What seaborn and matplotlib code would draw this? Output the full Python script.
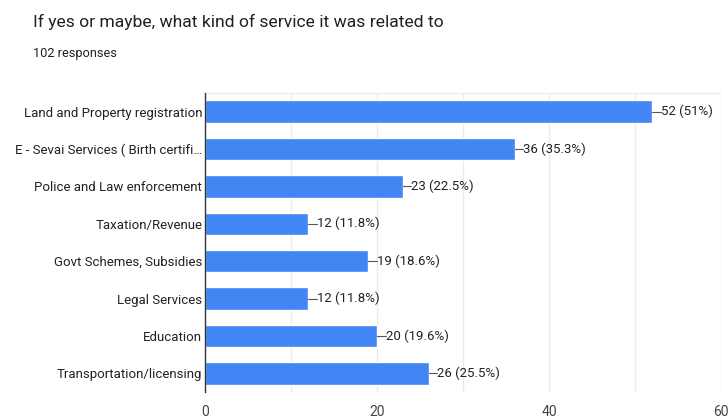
import matplotlib
matplotlib.use("Agg")
import matplotlib.pyplot as plt
import seaborn as sns
import pandas as pd

categories = ["Land and Property registration", "E - Sevai Services ( Birth certifi…",
              "Police and Law enforcement", "Taxation/Revenue", "Govt Schemes, Subsidies",
              "Legal Services", "Education", "Transportation/licensing"]
counts = [52, 36, 23, 12, 19, 12, 20, 26]
percents = ["51%", "35.3%", "22.5%", "11.8%", "18.6%", "11.8%", "19.6%", "25.5%"]
xticks = [0, 20, 40, 60]

sns.set_theme(style="white")
plt.rcParams['font.family'] = ['Roboto', 'DejaVu Sans']

df = pd.DataFrame({"cat": categories, "n": counts})

fig = plt.figure(figsize=(7.28, 4.18), dpi=100)
ax = fig.add_axes([205/728, 1-392/418, (721-205)/728, (392-93)/418])

sns.barplot(data=df, x="n", y="cat", color="#4285f4", saturation=1, width=0.6, ax=ax, orient="h")

ax.set_xlim(0, 60)
ax.set_ylim(len(categories)-0.5, -0.5)
for gx in range(10, 61, 10):
    ax.axvline(gx, color="#ebebeb", lw=1, zorder=0)
ax.axhline(-0.5, color="#ebebeb", lw=1, zorder=0)
ax.axhline(len(categories)-0.5, color="#ebebeb", lw=1, zorder=0)
for s in ["top", "right", "bottom"]:
    ax.spines[s].set_visible(False)
ax.spines["left"].set_color("#333333")
ax.spines["left"].set_linewidth(1)

ax.set_xticks(xticks)
ax.set_xticklabels([str(t) for t in xticks], fontsize=10, color="#444444")
ax.tick_params(axis="x", length=0, pad=9)
ax.tick_params(axis="y", length=0, pad=2, labelsize=9.5, labelcolor="#222222")
ax.set_xlabel("")
ax.set_ylabel("")

for i, (n, p) in enumerate(zip(counts, percents)):
    ax.plot([n, n + 1.0], [i, i], color="#555555", lw=0.8)
    ax.text(n + 1.0, i, f"{n} ({p})", va="center", ha="left", fontsize=9.5, color="#222222")

fig.text(33/728, 1-22/418, "If yes or maybe, what kind of service it was related to",
         fontsize=12.6, color="#202124", va="center", ha="left")
fig.text(33/728, 1-53/418, "102 responses", fontsize=9.2, color="#202124", va="center", ha="left")

fig.savefig("out.png", dpi=100, facecolor="white")
